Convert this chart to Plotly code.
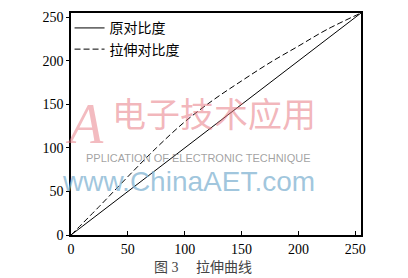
import plotly.graph_objects as go

# data
x_orig = [0, 255]
y_orig = [0, 255]
x_stretch = [0, 25, 50, 75, 100, 125, 150, 175, 200, 225, 255]
y_stretch = [0, 33, 67, 100, 130, 155, 177, 198, 217, 236, 255]
tick_vals = [0, 50, 100, 150, 200, 250]
tick_text = ["0", "50", "100", "150", "200", "250"]
legend_names = ["原对比度", "拉伸对比度"]
caption = "图 3 &nbsp;&nbsp;&nbsp; 拉伸曲线"

fig = go.Figure()
fig.add_trace(go.Scatter(x=x_orig, y=y_orig, mode="lines", name=legend_names[0],
                         line=dict(color="black", width=1)))
fig.add_trace(go.Scatter(x=x_stretch, y=y_stretch, mode="lines", name=legend_names[1],
                         line=dict(color="black", width=1, dash="6px,3px"), line_shape="spline"))

serif = "Liberation Serif, Noto Sans CJK SC, serif"

# watermark
fig.add_annotation(x=0.5, y=0.5, xref="paper", yref="paper", text="电子技术应用", showarrow=False,
                   xanchor="center", yanchor="middle", xshift=-2, yshift=12,
                   font=dict(family="Noto Sans CJK SC", size=34, color="rgba(232,120,130,0.55)"))
fig.add_annotation(x=0.0, y=0.5, xref="paper", yref="paper", text="<i>A</i>", showarrow=False,
                   xanchor="left", yanchor="middle", xshift=-8, yshift=0,
                   font=dict(family="Liberation Serif", size=56, color="rgba(232,120,130,0.5)"))
fig.add_annotation(x=0.5, y=0.5, xref="paper", yref="paper", text="PPLICATION OF ELECTRONIC TECHNIQUE",
                   showarrow=False, xanchor="center", yanchor="middle", xshift=-18, yshift=-34,
                   font=dict(family="Liberation Sans", size=11, color="rgba(120,120,120,0.7)"))
fig.add_annotation(x=0.5, y=0.5, xref="paper", yref="paper", text="www.ChinaAET.com",
                   showarrow=False, xanchor="center", yanchor="middle", xshift=-28, yshift=-57,
                   font=dict(family="Liberation Sans", size=28, color="rgba(130,180,210,0.75)"))

# caption
fig.add_annotation(x=0.5, y=0, xref="paper", yref="paper", text=caption, showarrow=False,
                   xanchor="center", yanchor="top", xshift=-13, yshift=-23,
                   font=dict(family=serif, size=14, color="#444"))

fig.update_xaxes(range=[0, 255], tickvals=tick_vals, ticktext=tick_text, ticks="inside", ticklen=4,
                 tickcolor="black", showline=True, linecolor="black", linewidth=1.5, mirror=True,
                 showgrid=False, zeroline=False, tickfont=dict(family=serif, size=14, color="black"))
fig.update_yaxes(range=[0, 255], tickvals=tick_vals, ticktext=tick_text, ticks="outside", ticklen=3,
                 tickcolor="black", showline=True, linecolor="black", linewidth=1.5, mirror=True,
                 showgrid=False, zeroline=False, tickfont=dict(family=serif, size=14, color="black"))

fig.update_layout(
    width=408, height=278,
    margin=dict(l=71, r=47, t=10, b=43),
    paper_bgcolor="white", plot_bgcolor="white",
    showlegend=True,
    legend=dict(x=-0.005, y=1.003, xanchor="left", yanchor="top", xref="paper", yref="paper",
                bgcolor="rgba(0,0,0,0)", font=dict(family=serif, size=14, color="black"),
                tracegroupgap=0, itemwidth=30, borderwidth=0),
)

fig.write_html("out.html")
